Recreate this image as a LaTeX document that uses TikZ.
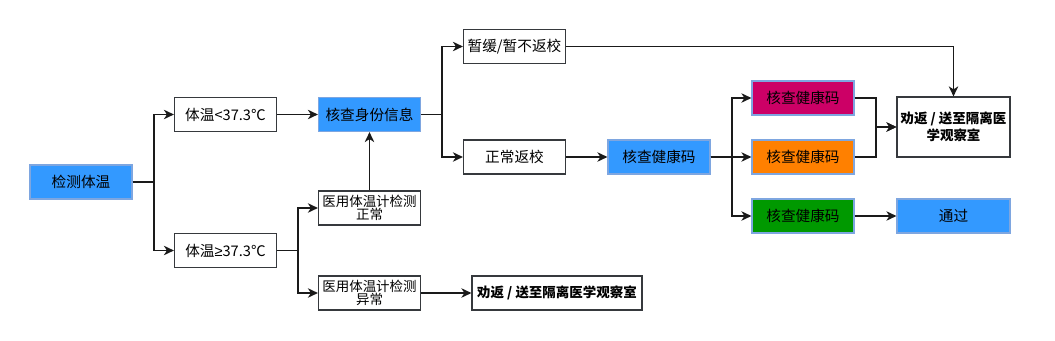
\documentclass[tikz,border=0pt]{standalone}
\usepackage{fontspec}
\setmainfont{Noto Sans CJK SC}
\newfontfamily\symfont{Liberation Sans}
\usepackage{tikz}
\usetikzlibrary{
  arrows.meta,
  positioning,
}
\definecolor{inkline}{HTML}{1A1A1A}
\definecolor{boxedge}{HTML}{36393D}
\definecolor{bluefill}{HTML}{3399FF}
\definecolor{blueedge}{HTML}{7EA6E0}
\definecolor{pinkfill}{HTML}{CC0066}
\definecolor{orangefill}{HTML}{FF8000}
\definecolor{greenfill}{HTML}{009900}
\tikzset{
  >={Stealth[length=8.5pt,width=8pt,inset=2.5pt]},
  every node/.append style={font=\fontsize{12.5}{15}\selectfont, text=black},
  plain/.style={
    draw=boxedge,
    fill=white,
    line width=1pt,
    minimum width=3.06cm,
    minimum height=1.02cm,
    inner sep=1pt,
    align=center,
  },
  tinted/.style={plain, draw=blueedge, fill=#1},
  twoline/.style={plain, font=\fontsize{11.5}{11.5}\selectfont},
  strong/.style={plain, font=\fontsize{11.5}{14}\selectfont\bfseries},
  flow/.style={draw=inkline, line width=1.6pt, ->},
}

\begin{document}
\begin{tikzpicture}[x=0.03cm,y=-0.03cm]
  \useasboundingbox (0,0) rectangle (1055,341);

  % left part
  \node[tinted=bluefill] (temp) at (81,182) {检测体温};
  \node[plain] (low) at (225.5,114.5) {体温<37.3℃};
  \node[plain] (high) at (225.5,250.5) {体温{\symfont ≥}37.3℃};
  \node[tinted=bluefill] (idcheck) at (369.5,114.5) {核查身份信息};
  \node[twoline] (recheckok) at (369.5,208) {医用体温计检测\\正常};
  \node[twoline] (recheckbad) at (369.5,293) {医用体温计检测\\异常};

  % middle part
  \node[plain] (delay) at (514.5,46.5) {暂缓/暂不返校};
  \node[plain] (back) at (514.5,157) {正常返校};
  \node[tinted=bluefill] (codecheck) at (659,157) {核查健康码};
  \node[strong, minimum width=5.1cm] (sendoff) at (557,293) {劝返 / 送至隔离医学观察室};

  % right part
  \node[tinted=pinkfill] (redcode) at (803,98) {核查健康码};
  \node[tinted=orangefill] (ambercode) at (803,157) {核查健康码};
  \node[tinted=greenfill] (greencode) at (803,216) {核查健康码};
  \node[strong, minimum width=3.39cm, minimum height=1.8cm] (isolate) at (953.5,127) {劝返 / 送至隔离医\\学观察室};
  \node[tinted=bluefill, minimum width=3.39cm] (pass) at (953.5,216) {通过};

  \draw[flow] (temp.east) -- ++(21,0) |- (low.west);
  \draw[flow] (temp.east) -- ++(21,0) |- (high.west);
  \draw[flow] (low) -- (idcheck);
  \draw[flow] (high.east) -- ++(21,0) |- (recheckok.west);
  \draw[flow] (high.east) -- ++(21,0) |- (recheckbad.west);
  \draw[flow] (recheckok) -- (idcheck);
  \draw[flow] (recheckbad) -- (sendoff);
  \draw[flow] (idcheck.east) -- ++(21,0) |- (delay.west);
  \draw[flow] (idcheck.east) -- ++(21,0) |- (back.west);
  \draw[flow] (back) -- (codecheck);
  \draw[flow] (codecheck.east) -- ++(21,0) |- (redcode.west);
  \draw[flow] (codecheck.east) -- ++(21,0) |- (ambercode.west);
  \draw[flow] (codecheck.east) -- ++(21,0) |- (greencode.west);
  \draw[flow] (delay) -| (isolate);
  \draw[flow] (redcode.east) -- ++(21,0) |- (isolate.west);
  \draw[flow] (ambercode.east) -- ++(21,0) |- (isolate.west);
  \draw[flow] (greencode) -- (pass);
\end{tikzpicture}
\end{document}
